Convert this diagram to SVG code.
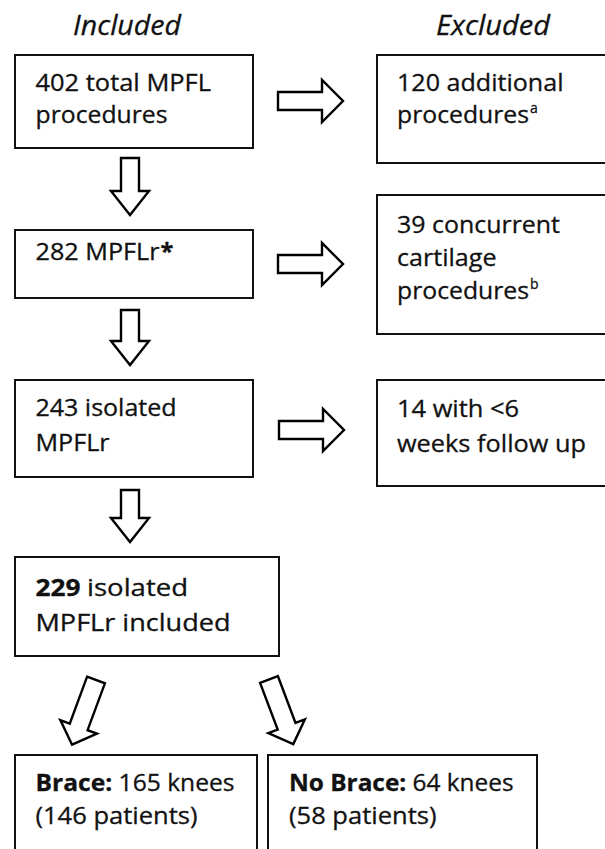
<svg xmlns="http://www.w3.org/2000/svg" width="605" height="849" viewBox="0 0 605 849">
<style>
text{font-family:"Open Sans","Liberation Sans",sans-serif;fill:#111;font-size:23.5px;font-weight:500;stroke:#111;stroke-width:0.3}
.hd{font-style:italic;font-size:28px;text-anchor:middle}
.b{font-weight:bold}
.sup{font-size:14px}
.box{fill:#fff;stroke:#111;stroke-width:2}
.arr{fill:#fff;stroke:#000;stroke-width:2.4;stroke-linejoin:miter}
</style>
<defs>
<polygon id="ra" class="arr" points="0,-9 44,-9 44,-21 65,0 44,21 44,9 0,9"/>
</defs>
<rect width="605" height="849" fill="#fff"/>
<g id="headers">
<text class="hd" x="127" y="35" textLength="108" lengthAdjust="spacingAndGlyphs">Included</text>
<text class="hd" x="493" y="35" textLength="114" lengthAdjust="spacingAndGlyphs">Excluded</text>
</g>
<g id="n1"><rect class="box" x="15" y="55" width="238" height="93"/>
<text x="35.5" y="91" textLength="175.5" lengthAdjust="spacingAndGlyphs">402 total MPFL</text>
<text x="35.5" y="123" textLength="132" lengthAdjust="spacingAndGlyphs">procedures</text></g>
<g id="e1"><rect class="box" x="377" y="55" width="245" height="108"/>
<text x="397" y="91" textLength="166.5" lengthAdjust="spacingAndGlyphs">120 additional</text>
<text x="397" y="123" textLength="132" lengthAdjust="spacingAndGlyphs">procedures</text><text class="sup" x="530" y="113">a</text></g>
<g id="n2"><rect class="box" x="15" y="230" width="238" height="68"/>
<text x="35.5" y="260" textLength="124" lengthAdjust="spacingAndGlyphs">282 MPFLr</text><text class="b" x="160.5" y="260">*</text></g>
<g id="e2"><rect class="box" x="377" y="195" width="245" height="139"/>
<text x="397" y="233" textLength="163" lengthAdjust="spacingAndGlyphs">39 concurrent</text>
<text x="397" y="266" textLength="99.5" lengthAdjust="spacingAndGlyphs">cartilage</text>
<text x="397" y="299" textLength="132" lengthAdjust="spacingAndGlyphs">procedures</text><text class="sup" x="530" y="289">b</text></g>
<g id="n3"><rect class="box" x="15" y="380" width="238" height="97"/>
<text x="35.5" y="416" textLength="141" lengthAdjust="spacingAndGlyphs">243 isolated</text>
<text x="35.5" y="451" textLength="74" lengthAdjust="spacingAndGlyphs">MPFLr</text></g>
<g id="e3"><rect class="box" x="377" y="380" width="245" height="106"/>
<text x="397" y="417" textLength="122" lengthAdjust="spacingAndGlyphs">14 with &lt;6</text>
<text x="397" y="452" textLength="189" lengthAdjust="spacingAndGlyphs">weeks follow up</text></g>
<g id="n4"><rect class="box" x="15" y="557" width="264" height="99"/>
<text class="b" x="35.5" y="596" textLength="45" lengthAdjust="spacingAndGlyphs">229</text>
<text x="87" y="596" textLength="101" lengthAdjust="spacingAndGlyphs">isolated</text>
<text x="35.5" y="631" textLength="195" lengthAdjust="spacingAndGlyphs">MPFLr included</text></g>
<g id="n5"><rect class="box" x="15" y="755" width="242" height="110"/>
<text x="35.5" y="791" textLength="199" lengthAdjust="spacingAndGlyphs"><tspan class="b">Brace:</tspan> 165 knees</text>
<text x="35.5" y="824" textLength="162" lengthAdjust="spacingAndGlyphs">(146 patients)</text></g>
<g id="n6"><rect class="box" x="268" y="755" width="269" height="110"/>
<text x="289" y="791" textLength="224.5" lengthAdjust="spacingAndGlyphs"><tspan class="b">No Brace:</tspan> 64 knees</text>
<text x="289" y="824" textLength="147.5" lengthAdjust="spacingAndGlyphs">(58 patients)</text></g>
<g id="connectors">
<use href="#ra" x="278" y="101"/>
<use href="#ra" x="278" y="264"/>
<use href="#ra" x="279" y="430"/>
<polygon class="arr" points="121,158 139,158 139,191 149,191 130,215 111,191 121,191"/>
<polygon class="arr" points="121,310 139,310 139,341 149,341 130,365 111,341 121,341"/>
<polygon class="arr" points="121,490 139,490 139,518 149,518 130,542 111,518 121,518"/>
<polygon class="arr" points="-9.5,0 9.5,0 9.5,50 19.5,50 0,69 -19.5,50 -9.5,50" transform="translate(96,680) rotate(20.3)"/>
<polygon class="arr" points="-9.5,0 9.5,0 9.5,50 19.5,50 0,69 -19.5,50 -9.5,50" transform="translate(269,679.5) rotate(-20.6)"/>
</g>
</svg>
